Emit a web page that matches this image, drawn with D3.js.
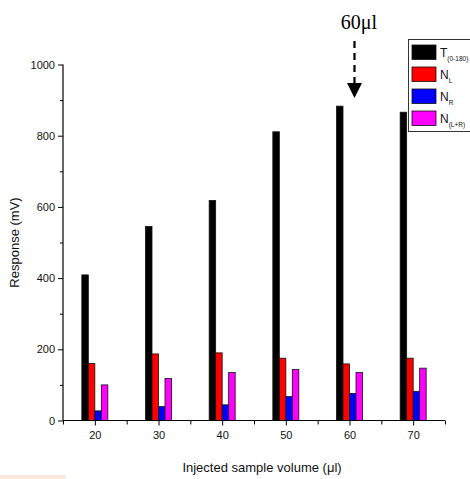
<!DOCTYPE html>
<html>
<head>
<meta charset="utf-8">
<script src="https://cdn.jsdelivr.net/npm/d3@7"></script>
<style>
  body { margin: 0; background: #fff; }
  text { font-family: Arial, "Liberation Sans", sans-serif; }
</style>
</head>
<body>
<script>
var w = 470;
var h = 479;

// data
var volumes = [20, 30, 40, 50, 60, 70];
var T = [409, 545, 618, 811, 883, 866];
var NL = [160, 187, 190, 175, 159, 175];
var NR = [27, 39, 44, 67, 76, 82];
var NLR = [100, 118, 135, 143, 135, 147];

var seriesNames = ["T", "N", "N", "N"];
var seriesSubs = ["(0-180)", "L", "R", "(L+R)"];
var seriesColors = ["#000000", "#ff0000", "#0000ff", "#ff00ff"];
var seriesValues = [T, NL, NR, NLR];

var yTicks = [0, 200, 400, 600, 800, 1000];

var margin = { left: 63, top: 64.5, right: 445, bottom: 420.5 };

var xScale = d3.scaleLinear().domain([15, 75]).range([margin.left, margin.right]);
var yScale = d3.scaleLinear().domain([0, 1000]).range([margin.bottom, margin.top]);

var barW = 6.5;

var svg = d3.select("body").append("svg").attr("width", w).attr("height", h);

// bars
seriesValues.forEach(function (vals, s) {
  svg.append("g")
    .selectAll("rect")
    .data(vals)
    .enter()
    .append("rect")
    .attr("x", function (d, i) { return xScale(volumes[i]) + (s - 2) * barW; })
    .attr("y", function (d) { return yScale(d); })
    .attr("width", barW)
    .attr("height", function (d) { return yScale(0) - yScale(d); })
    .attr("fill", seriesColors[s])
    .attr("stroke", "#111")
    .attr("stroke-width", 0.8);
});

// y axis
var yAxis = d3.axisLeft(yScale).tickValues(yTicks).tickSize(5).tickPadding(3).tickFormat(d3.format("d"));
var gy = svg.append("g").attr("transform", "translate(" + margin.left + ",0)").call(yAxis);
gy.selectAll(".tick line").attr("stroke", "#000");
gy.select(".domain").attr("d", "M0," + margin.top + "V" + margin.bottom).attr("stroke", "#000").attr("stroke-width", 1.2);
gy.selectAll("text").attr("font-size", "11px").attr("fill", "#111");
svg.append("g").attr("transform", "translate(" + margin.left + ",0)")
  .call(d3.axisLeft(yScale).tickValues([100, 300, 500, 700, 900]).tickSize(3).tickFormat(""))
  .select(".domain").remove();

// x axis
var xAxis = d3.axisBottom(xScale).tickValues(volumes).tickSize(5).tickPadding(6);
var gx = svg.append("g").attr("transform", "translate(0," + margin.bottom + ")").call(xAxis);
gx.select(".domain").attr("d", "M" + margin.left + ",0H" + margin.right).attr("stroke", "#000").attr("stroke-width", 1.2);
gx.selectAll("text").attr("font-size", "11px").attr("fill", "#111");
svg.append("g").attr("transform", "translate(0," + margin.bottom + ")")
  .call(d3.axisBottom(xScale).tickValues([15, 25, 35, 45, 55, 65, 75]).tickSize(4).tickFormat(""))
  .select(".domain").remove();

// axis titles
svg.append("text")
  .attr("transform", "translate(19," + (margin.top + margin.bottom) / 2 + ") rotate(-90)")
  .attr("text-anchor", "middle")
  .attr("font-size", "13px")
  .attr("fill", "#111")
  .text("Response (mV)");

svg.append("text")
  .attr("x", 262)
  .attr("y", 472)
  .attr("text-anchor", "middle")
  .attr("font-size", "13px")
  .attr("fill", "#111")
  .text("Injected sample volume (\u03bcl)");

// legend
var legend = svg.append("g");
legend.append("rect")
  .attr("x", 408.5).attr("y", 39.5)
  .attr("width", 70).attr("height", 92)
  .attr("fill", "#fff").attr("stroke", "#333").attr("stroke-width", 1);
seriesNames.forEach(function (name, s) {
  var y0 = 45 + s * 22;
  legend.append("rect")
    .attr("x", 412).attr("y", y0)
    .attr("width", 24).attr("height", 14.5)
    .attr("fill", seriesColors[s]).attr("stroke", "#111").attr("stroke-width", 0.8);
  var t = legend.append("text")
    .attr("x", 440).attr("y", y0 + 12)
    .attr("font-size", "12px").attr("fill", "#111");
  t.append("tspan").text(name);
  t.append("tspan").attr("font-size", "6.5px").attr("dy", 4).text(seriesSubs[s]);
});

// 60 µl annotation
var ax = xScale(60) + 5;
svg.append("text")
  .attr("x", 359).attr("y", 29)
  .attr("text-anchor", "middle")
  .style("font-family", "'Liberation Serif', 'Times New Roman', serif")
  .attr("font-size", "20px")
  .attr("fill", "#000")
  .text("60\u03bcl");
svg.append("line")
  .attr("x1", ax).attr("x2", ax)
  .attr("y1", 41).attr("y2", 84)
  .attr("stroke", "#000").attr("stroke-width", 2.2)
  .attr("stroke-dasharray", "7,5");
svg.append("path")
  .attr("d", "M" + (ax - 7.5) + ",83L" + (ax + 7.5) + ",83L" + ax + ",98Z")
  .attr("fill", "#000");

// peach strip bottom-left
svg.append("rect").attr("x", 0).attr("y", 475).attr("width", 66).attr("height", 4).attr("fill", "#fde9dc");
</script>
</body>
</html>
